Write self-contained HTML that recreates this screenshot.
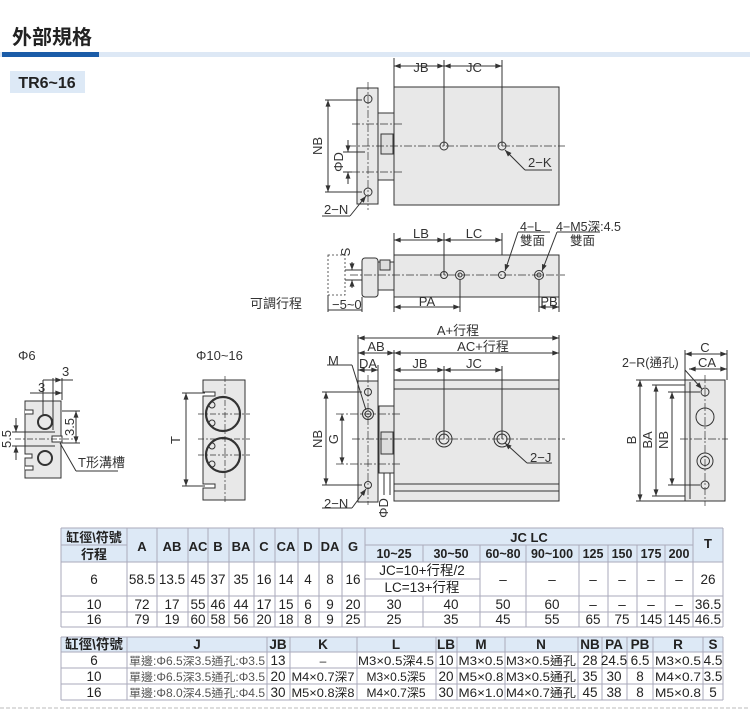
<!DOCTYPE html>
<html><head><meta charset="utf-8"><style>
html,body{margin:0;padding:0;background:#fff;}
svg{display:block;font-family:"Liberation Sans","Noto Sans CJK TC",sans-serif;}
</style></head><body>
<svg width="750" height="716" viewBox="0 0 750 716" xmlns="http://www.w3.org/2000/svg">
<defs>
<marker id="a" viewBox="0 0 8 6" refX="8" refY="3" markerWidth="7" markerHeight="5" orient="auto-start-reverse"><path d="M0,0L8,3L0,6z" fill="#333"/></marker>
</defs>
<text x="12" y="44" font-size="20" font-weight="bold" fill="#222">外部規格</text>
<rect x="0" y="52" width="750" height="5" fill="#dde8f5"/>
<rect x="2" y="52" width="97" height="5" fill="#1b5ca8"/>
<rect x="10" y="71" width="75" height="22" fill="#dde9f6"/>
<text x="47" y="88" font-size="16" font-weight="bold" text-anchor="middle" fill="#222">TR6~16</text>

<g stroke="#333" stroke-width="1" fill="none" font-size="12">
<rect x="394" y="87" width="165" height="118" fill="#e8e8e8"/>
<rect x="378" y="113" width="16" height="67" fill="#e8e8e8"/>
<rect x="381" y="134" width="12" height="20" fill="#ddd"/>
<rect x="357" y="88" width="21" height="116" fill="#e8e8e8"/>
<circle cx="368" cy="99" r="4"/><circle cx="368" cy="192" r="4"/>
<circle cx="444" cy="146" r="4"/><circle cx="502" cy="146" r="4"/>
<g stroke-dasharray="8 2 2 2" stroke-width="0.7"><line x1="348" y1="146" x2="565" y2="146"/><line x1="368" y1="82" x2="368" y2="210"/><line x1="352" y1="124" x2="402" y2="124"/><line x1="352" y1="172" x2="402" y2="172"/></g>
<line x1="394" y1="58" x2="394" y2="87"/><line x1="444" y1="60" x2="444" y2="146"/><line x1="502" y1="60" x2="502" y2="146"/>
<line x1="394" y1="66" x2="444" y2="66" marker-start="url(#a)" marker-end="url(#a)"/>
<line x1="444" y1="66" x2="502" y2="66" marker-start="url(#a)" marker-end="url(#a)"/>
<line x1="325" y1="100" x2="362" y2="100"/><line x1="325" y1="192" x2="362" y2="192"/>
<line x1="328" y1="100" x2="328" y2="192" marker-start="url(#a)" marker-end="url(#a)"/>
<line x1="343" y1="152" x2="365" y2="152"/><line x1="343" y1="172" x2="352" y2="172"/>
<line x1="348" y1="140" x2="348" y2="152" marker-end="url(#a)"/><line x1="348" y1="184" x2="348" y2="172" marker-end="url(#a)"/>
<line x1="505" y1="150" x2="525" y2="170" marker-start="url(#a)"/><line x1="525" y1="170" x2="552" y2="170"/>
<line x1="366" y1="196" x2="350" y2="216" marker-start="url(#a)"/><line x1="322" y1="216" x2="350" y2="216"/>

<rect x="394" y="255" width="165" height="42" fill="#e8e8e8"/>
<rect x="378" y="262" width="16" height="28" fill="#e8e8e8"/>
<rect x="380" y="260" width="10" height="10" fill="#ddd"/>
<rect x="362" y="258" width="16" height="39" rx="3" fill="#e8e8e8"/>
<rect x="328" y="255" width="17" height="40" stroke-dasharray="2 2" stroke-width="0.8"/>
<g stroke-dasharray="8 2 2 2" stroke-width="0.7"><line x1="350" y1="275" x2="565" y2="275"/></g>
<circle cx="444" cy="275" r="3.5"/><circle cx="460" cy="275" r="4.5"/><circle cx="460" cy="275" r="2"/>
<circle cx="502" cy="275" r="3.5"/><circle cx="539" cy="275" r="4.5"/><circle cx="539" cy="275" r="2"/>
<line x1="394" y1="233" x2="394" y2="255"/><line x1="444" y1="233" x2="444" y2="275"/><line x1="502" y1="233" x2="502" y2="255"/>
<line x1="394" y1="240" x2="444" y2="240" marker-start="url(#a)" marker-end="url(#a)"/>
<line x1="444" y1="240" x2="502" y2="240" marker-start="url(#a)" marker-end="url(#a)"/>
<line x1="394" y1="297" x2="394" y2="312"/><line x1="460" y1="280" x2="460" y2="312"/><line x1="539" y1="280" x2="539" y2="312"/><line x1="559" y1="297" x2="559" y2="312"/>
<line x1="394" y1="307" x2="460" y2="307" marker-start="url(#a)" marker-end="url(#a)"/>
<line x1="539" y1="307" x2="559" y2="307" marker-start="url(#a)" marker-end="url(#a)"/>
<line x1="505" y1="271" x2="518" y2="232" marker-start="url(#a)"/><line x1="518" y1="232" x2="550" y2="232"/>
<line x1="542" y1="271" x2="557" y2="232" marker-start="url(#a)"/><line x1="557" y1="232" x2="600" y2="232"/>
<line x1="352" y1="262" x2="352" y2="270" marker-end="url(#a)"/><line x1="352" y1="288" x2="352" y2="280" marker-end="url(#a)"/>
<line x1="345" y1="270" x2="362" y2="270"/><line x1="345" y1="280" x2="362" y2="280"/>
<line x1="328" y1="295" x2="328" y2="312"/><line x1="362" y1="297" x2="362" y2="312"/>
<line x1="328" y1="310" x2="362" y2="310"/>

<rect x="394" y="380" width="165" height="121" fill="#e8e8e8"/>
<line x1="394" y1="389" x2="559" y2="389"/><line x1="394" y1="484" x2="559" y2="484"/><line x1="394" y1="491" x2="559" y2="491"/>
<rect x="379" y="406" width="15" height="67" fill="#e8e8e8"/>
<rect x="381" y="432" width="12" height="22" fill="#ddd"/>
<rect x="358" y="381" width="20" height="121" fill="#e8e8e8"/>
<circle cx="368" cy="392" r="3.5"/><circle cx="368" cy="414" r="5.5"/><circle cx="368" cy="414" r="3"/><circle cx="368" cy="485" r="3.5"/>
<circle cx="444" cy="439" r="8"/><circle cx="444" cy="439" r="5"/><circle cx="502" cy="439" r="8"/><circle cx="502" cy="439" r="5"/>
<g stroke-dasharray="8 2 2 2" stroke-width="0.7"><line x1="352" y1="439" x2="565" y2="439"/><line x1="368" y1="375" x2="368" y2="505"/><line x1="336" y1="414" x2="402" y2="414"/><line x1="336" y1="464" x2="402" y2="464"/></g>
<line x1="358" y1="335" x2="358" y2="381"/><line x1="559" y1="335" x2="559" y2="380"/><line x1="394" y1="350" x2="394" y2="380"/><line x1="378" y1="365" x2="378" y2="381"/>
<line x1="444" y1="366" x2="444" y2="439"/><line x1="502" y1="366" x2="502" y2="439"/>
<line x1="358" y1="338" x2="559" y2="338" marker-start="url(#a)" marker-end="url(#a)"/>
<line x1="358" y1="353" x2="394" y2="353" marker-start="url(#a)" marker-end="url(#a)"/>
<line x1="394" y1="353" x2="559" y2="353" marker-start="url(#a)" marker-end="url(#a)"/>
<line x1="358" y1="370" x2="378" y2="370" marker-start="url(#a)" marker-end="url(#a)"/>
<line x1="394" y1="370" x2="444" y2="370" marker-start="url(#a)" marker-end="url(#a)"/>
<line x1="444" y1="370" x2="502" y2="370" marker-start="url(#a)" marker-end="url(#a)"/>
<line x1="322" y1="392" x2="362" y2="392"/><line x1="322" y1="485" x2="362" y2="485"/>
<line x1="326" y1="392" x2="326" y2="485" marker-start="url(#a)" marker-end="url(#a)"/>
<line x1="342" y1="414" x2="342" y2="464" marker-start="url(#a)" marker-end="url(#a)"/>
<line x1="505" y1="443" x2="527" y2="463" marker-start="url(#a)"/><line x1="527" y1="463" x2="552" y2="463"/>
<line x1="366" y1="410" x2="352" y2="365"/><line x1="327" y1="365" x2="352" y2="365"/>
<line x1="366" y1="489" x2="352" y2="508" marker-start="url(#a)"/><line x1="322" y1="508" x2="352" y2="508"/>
<line x1="384" y1="473" x2="384" y2="495"/><line x1="390" y1="473" x2="390" y2="495"/>

<rect x="685" y="380" width="40" height="121" fill="#e8e8e8"/>
<line x1="690" y1="382" x2="690" y2="499"/>
<circle cx="705" cy="392" r="4"/><circle cx="705" cy="417" r="9"/><circle cx="705" cy="461" r="8"/><circle cx="705" cy="461" r="4.5"/><circle cx="705" cy="485" r="4"/>
<g stroke-dasharray="8 2 2 2" stroke-width="0.7"><line x1="705" y1="375" x2="705" y2="506"/><line x1="680" y1="439" x2="728" y2="439"/></g>
<line x1="636" y1="380" x2="685" y2="380"/><line x1="636" y1="501" x2="685" y2="501"/>
<line x1="640" y1="380" x2="640" y2="501" marker-start="url(#a)" marker-end="url(#a)"/>
<line x1="652" y1="385" x2="685" y2="385"/><line x1="652" y1="496" x2="685" y2="496"/>
<line x1="656" y1="385" x2="656" y2="496" marker-start="url(#a)" marker-end="url(#a)"/>
<line x1="668" y1="392" x2="700" y2="392"/><line x1="668" y1="485" x2="700" y2="485"/>
<line x1="672" y1="392" x2="672" y2="485" marker-start="url(#a)" marker-end="url(#a)"/>
<line x1="685" y1="350" x2="685" y2="380"/><line x1="727" y1="350" x2="727" y2="380"/>
<line x1="685" y1="354" x2="727" y2="354" marker-start="url(#a)" marker-end="url(#a)"/>
<line x1="689" y1="369" x2="727" y2="369" marker-start="url(#a)" marker-end="url(#a)"/>
<line x1="702" y1="389" x2="685" y2="370" marker-start="url(#a)"/>

<path d="M25,401 H61 V478 H25 V458 H32 V454 H25 Z" fill="#e8e8e8"/>
<path d="M25,410 h8 v4 h-8" fill="#fff"/>
<path d="M25,466 h8 v4 h-8" fill="#fff"/>
<rect x="52" y="436" width="10" height="6" fill="#fff"/>
<circle cx="45" cy="422" r="7" stroke-width="2"/><circle cx="45" cy="458" r="7" stroke-width="2"/>
<g stroke-dasharray="6 2 2 2" stroke-width="0.7"><line x1="15" y1="439" x2="78" y2="439"/></g>
<line x1="43" y1="380" x2="43" y2="415"/><line x1="53" y1="378" x2="53" y2="430"/><line x1="62" y1="378" x2="62" y2="400"/>
<line x1="30" y1="393" x2="62" y2="393" marker-end="url(#a)"/><line x1="43" y1="380" x2="73" y2="380"/>
<line x1="53" y1="380" x2="62" y2="380" marker-end="url(#a)"/>
<line x1="62" y1="411" x2="80" y2="411"/><line x1="62" y1="443" x2="80" y2="443"/>
<line x1="76" y1="411" x2="76" y2="443" marker-start="url(#a)" marker-end="url(#a)"/>
<line x1="12" y1="432" x2="55" y2="432"/><line x1="12" y1="446" x2="55" y2="446"/>
<line x1="16" y1="418" x2="16" y2="432" marker-end="url(#a)"/><line x1="16" y1="460" x2="16" y2="446" marker-end="url(#a)"/>
<line x1="60" y1="443" x2="76" y2="471"/><line x1="76" y1="471" x2="118" y2="471"/>

<path d="M203,380 H245 V500 H203 V488 H215 V484 H203 V396 H215 V392 H203 Z" fill="#e8e8e8"/>
<circle cx="223" cy="414" r="17" stroke-width="2.2" fill="#e8e8e8"/><circle cx="223" cy="455" r="17" stroke-width="2.2" fill="#e8e8e8"/>
<circle cx="212" cy="405" r="3"/><circle cx="212" cy="423" r="3"/><circle cx="212" cy="446" r="3"/><circle cx="212" cy="464" r="3"/>
<g stroke-dasharray="6 2 2 2" stroke-width="0.7"><line x1="198" y1="414" x2="250" y2="414"/><line x1="198" y1="439" x2="250" y2="439"/><line x1="198" y1="455" x2="250" y2="455"/><line x1="225" y1="376" x2="225" y2="504"/></g>
<line x1="182" y1="393" x2="205" y2="393"/><line x1="182" y1="486" x2="205" y2="486"/>
<line x1="186" y1="393" x2="186" y2="486" marker-start="url(#a)" marker-end="url(#a)"/>
</g>

<g font-size="13" fill="#333">
<text x="421" y="72" text-anchor="middle">JB</text><text x="474" y="72" text-anchor="middle">JC</text>
<text x="528" y="167">2−K</text><text x="324" y="214">2−N</text>
<text transform="translate(322,146) rotate(-90)" text-anchor="middle">NB</text>
<text transform="translate(343,162) rotate(-90)" text-anchor="middle">ΦD</text>
<text x="421" y="238" text-anchor="middle">LB</text><text x="474" y="238" text-anchor="middle">LC</text>
<text x="520" y="231" font-size="12.5">4−L</text><text x="520" y="245" font-size="12.5">雙面</text>
<text x="556" y="231" font-size="12.5">4−M5深:4.5</text><text x="570" y="245" font-size="12.5">雙面</text>
<text x="427" y="306" text-anchor="middle">PA</text><text x="549" y="306" text-anchor="middle">PB</text>
<text x="250" y="308">可調行程</text><text x="332" y="309">−5~0</text>
<text transform="translate(350,252) rotate(-90)" text-anchor="middle">S</text>
<text x="458" y="335" text-anchor="middle">A+行程</text><text x="483" y="351" text-anchor="middle">AC+行程</text>
<text x="376" y="351" text-anchor="middle">AB</text><text x="368" y="368" text-anchor="middle">DA</text>
<text x="420" y="368" text-anchor="middle">JB</text><text x="474" y="368" text-anchor="middle">JC</text>
<text x="328" y="365">M</text><text x="530" y="462">2−J</text><text x="324" y="508">2−N</text>
<text transform="translate(322,439) rotate(-90)" text-anchor="middle">NB</text>
<text transform="translate(338,439) rotate(-90)" text-anchor="middle">G</text>
<text transform="translate(388,508) rotate(-90)" text-anchor="middle">ΦD</text>
<text x="705" y="352" text-anchor="middle">C</text><text x="707" y="367" text-anchor="middle">CA</text>
<text x="622" y="367" font-size="12.5">2−R(通孔)</text>
<text transform="translate(636,440) rotate(-90)" text-anchor="middle">B</text>
<text transform="translate(652,440) rotate(-90)" text-anchor="middle">BA</text>
<text transform="translate(668,440) rotate(-90)" text-anchor="middle">NB</text>
<text x="18" y="360">Φ6</text><text x="196" y="360">Φ10~16</text>
<text x="38" y="392">3</text><text x="62" y="376">3</text>
<text transform="translate(74,427) rotate(-90)" text-anchor="middle">3.5</text>
<text transform="translate(11,439) rotate(-90)" text-anchor="middle">5.5</text>
<text x="78" y="467">T形溝槽</text>
<text transform="translate(180,440) rotate(-90)" text-anchor="middle">T</text>
</g>

<rect x="61" y="528" width="662" height="34" fill="#dde9f6"/>
<g stroke="#aab" stroke-width="1" fill="none">
<line x1="61" y1="528" x2="723" y2="528"/><line x1="61" y1="562" x2="723" y2="562"/>
<line x1="61" y1="545" x2="127" y2="545"/><line x1="365" y1="545" x2="693" y2="545"/>
<line x1="365" y1="579" x2="480" y2="579"/>
<line x1="61" y1="596" x2="723" y2="596"/><line x1="61" y1="612" x2="723" y2="612"/><line x1="61" y1="627" x2="723" y2="627"/>
<path d="M61,528V627M127,528V627M157,528V627M188,528V627M208,528V627M229,528V627M254,528V627M275,528V627M298,528V627M319,528V627M342,528V627M365,528V627M693,528V627M723,528V627"/>
<path d="M423,545V562M423,596V627M480,545V627M526,545V627M579,545V627M608,545V627M637,545V627M665,545V627"/>
</g>
<g font-size="13" fill="#222" text-anchor="middle">
<g font-weight="bold">
<text x="94" y="542">缸徑\符號</text><text x="94" y="559">行程</text>
<text x="142" y="551">A</text><text x="172" y="551">AB</text><text x="198" y="551">AC</text><text x="218" y="551">B</text><text x="241" y="551">BA</text><text x="264" y="551">C</text><text x="286" y="551">CA</text><text x="308" y="551">D</text><text x="330" y="551">DA</text><text x="353" y="551">G</text>
<text x="529" y="542">JC  LC</text><text x="708" y="548">T</text>
<g font-size="12.5"><text x="394" y="558">10~25</text><text x="451" y="558">30~50</text><text x="503" y="558">60~80</text><text x="552" y="558">90~100</text><text x="593" y="558">125</text><text x="622" y="558">150</text><text x="651" y="558">175</text><text x="679" y="558">200</text></g>
</g>
<g font-size="13.5">
<text x="94" y="584">6</text><text x="142" y="584">58.5</text><text x="172" y="584">13.5</text><text x="198" y="584">45</text><text x="218" y="584">37</text><text x="241" y="584">35</text><text x="264" y="584">16</text><text x="286" y="584">14</text><text x="308" y="584">4</text><text x="330" y="584">8</text><text x="353" y="584">16</text>
<text x="422" y="575">JC=10+行程/2</text><text x="422" y="592">LC=13+行程</text>
<text x="503" y="584">–</text><text x="552" y="584">–</text><text x="593" y="584">–</text><text x="622" y="584">–</text><text x="651" y="584">–</text><text x="679" y="584">–</text><text x="708" y="584">26</text>
<text x="94" y="609">10</text><text x="142" y="609">72</text><text x="172" y="609">17</text><text x="198" y="609">55</text><text x="218" y="609">46</text><text x="241" y="609">44</text><text x="264" y="609">17</text><text x="286" y="609">15</text><text x="308" y="609">6</text><text x="330" y="609">9</text><text x="353" y="609">20</text>
<text x="394" y="609">30</text><text x="451" y="609">40</text><text x="503" y="609">50</text><text x="552" y="609">60</text><text x="593" y="609">–</text><text x="622" y="609">–</text><text x="651" y="609">–</text><text x="679" y="609">–</text><text x="708" y="609">36.5</text>
<text x="94" y="624">16</text><text x="142" y="624">79</text><text x="172" y="624">19</text><text x="198" y="624">60</text><text x="218" y="624">58</text><text x="241" y="624">56</text><text x="264" y="624">20</text><text x="286" y="624">18</text><text x="308" y="624">8</text><text x="330" y="624">9</text><text x="353" y="624">25</text>
<text x="394" y="624">25</text><text x="451" y="624">35</text><text x="503" y="624">45</text><text x="552" y="624">55</text><text x="593" y="624">65</text><text x="622" y="624">75</text><text x="651" y="624">145</text><text x="679" y="624">145</text><text x="708" y="624">46.5</text>
</g>
</g>

<rect x="61" y="637" width="662" height="15" fill="#dde9f6"/>
<g stroke="#aab" stroke-width="1" fill="none">
<line x1="61" y1="637" x2="723" y2="637"/><line x1="61" y1="652" x2="723" y2="652"/><line x1="61" y1="668" x2="723" y2="668"/><line x1="61" y1="684" x2="723" y2="684"/><line x1="61" y1="700" x2="723" y2="700"/>
<path d="M61,637V700M127,637V700M267,637V700M290,637V700M357,637V700M436,637V700M457,637V700M505,637V700M578,637V700M602,637V700M627,637V700M653,637V700M703,637V700M723,637V700"/>
</g>
<g font-size="13.5" fill="#222" text-anchor="middle">
<g font-weight="bold" font-size="13.5">
<text x="94" y="649">缸徑\符號</text><text x="197" y="649">J</text><text x="278" y="649">JB</text><text x="323" y="649">K</text><text x="396" y="649">L</text><text x="446" y="649">LB</text><text x="481" y="649">M</text><text x="541" y="649">N</text><text x="590" y="649">NB</text><text x="614" y="649">PA</text><text x="640" y="649">PB</text><text x="678" y="649">R</text><text x="713" y="649">S</text>
</g>
<text x="94" y="665">6</text><text x="94" y="681">10</text><text x="94" y="697">16</text>
<g font-size="11.5" fill="#555"><text x="197" y="665" textLength="136" lengthAdjust="spacingAndGlyphs">單邊:Φ6.5深3.5通孔:Φ3.5</text><text x="197" y="681" textLength="136" lengthAdjust="spacingAndGlyphs">單邊:Φ6.5深3.5通孔:Φ3.5</text><text x="197" y="697" textLength="136" lengthAdjust="spacingAndGlyphs">單邊:Φ8.0深4.5通孔:Φ4.5</text></g>
<text x="278" y="665">13</text><text x="278" y="681">20</text><text x="278" y="697">30</text>
<g font-size="12"><text x="323" y="665">–</text><text x="323" y="681" textLength="63" lengthAdjust="spacingAndGlyphs">M4×0.7深7</text><text x="323" y="697" textLength="63" lengthAdjust="spacingAndGlyphs">M5×0.8深8</text>
<text x="396" y="665" textLength="76" lengthAdjust="spacingAndGlyphs">M3×0.5深4.5</text><text x="396" y="681">M3×0.5深5</text><text x="396" y="697">M4×0.7深5</text>
<text x="481" y="665" textLength="45" lengthAdjust="spacingAndGlyphs">M3×0.5</text><text x="481" y="681" textLength="45" lengthAdjust="spacingAndGlyphs">M5×0.8</text><text x="481" y="697" textLength="45" lengthAdjust="spacingAndGlyphs">M6×1.0</text>
<text x="541" y="665" textLength="70" lengthAdjust="spacingAndGlyphs">M3×0.5通孔</text><text x="541" y="681" textLength="70" lengthAdjust="spacingAndGlyphs">M3×0.5通孔</text><text x="541" y="697" textLength="70" lengthAdjust="spacingAndGlyphs">M4×0.7通孔</text>
<text x="678" y="665" textLength="46" lengthAdjust="spacingAndGlyphs">M3×0.5</text><text x="678" y="681" textLength="46" lengthAdjust="spacingAndGlyphs">M4×0.7</text><text x="678" y="697" textLength="46" lengthAdjust="spacingAndGlyphs">M5×0.8</text></g>
<text x="446" y="665">10</text><text x="446" y="681">20</text><text x="446" y="697">30</text>
<text x="590" y="665">28</text><text x="590" y="681">35</text><text x="590" y="697">45</text>
<text x="614" y="665">24.5</text><text x="614" y="681">30</text><text x="614" y="697">38</text>
<text x="640" y="665">6.5</text><text x="640" y="681">8</text><text x="640" y="697">8</text>
<text x="713" y="665">4.5</text><text x="713" y="681">3.5</text><text x="713" y="697">5</text>
</g>
<line x1="0" y1="708" x2="750" y2="708" stroke="#bbb" stroke-dasharray="4 2"/>
</svg>
</body></html>
